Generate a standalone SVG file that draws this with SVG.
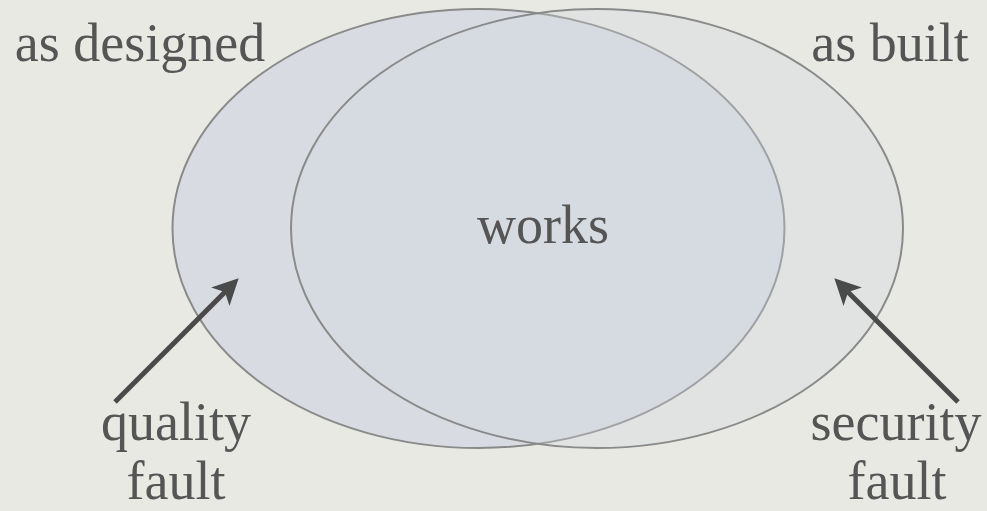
<svg xmlns="http://www.w3.org/2000/svg" width="987" height="511" viewBox="0 0 987 511">
  <style>
    .set { stroke: #8a8a8a; stroke-width: 2; }
    .label { font-family: "Liberation Serif", "Times New Roman", serif; font-size: 54px; fill: #555555; text-anchor: middle; }
    .pointer { stroke: #4a4a4a; stroke-width: 5; fill: none; marker-end: url(#head); }
  </style>
  <defs>
    <marker id="head" viewBox="0 0 10 10" refX="3" refY="5" markerWidth="5.6" markerHeight="5.2" orient="auto" markerUnits="strokeWidth">
      <path d="M0,0 L10,5 L0,10 L2.5,5 z" fill="#4a4a4a"/>
    </marker>
  </defs>

  <rect width="987" height="511" fill="#e9e9e4"/>

  <g id="as-designed">
    <ellipse class="set" cx="478.5" cy="228.5" rx="306" ry="219.5" fill="#d8dce2"/>
    <text class="label" x="140" y="61">as designed</text>
  </g>

  <g id="as-built">
    <ellipse class="set" cx="597" cy="228.5" rx="306" ry="219.5" fill="#d0d6df" fill-opacity="0.3"/>
    <text class="label" x="890" y="61">as built</text>
  </g>

  <g id="works">
    <text class="label" x="543" y="243">works</text>
  </g>

  <g id="quality-fault">
    <text class="label" x="176" y="440">quality</text>
    <text class="label" x="176" y="499">fault</text>
  </g>

  <g id="security-fault">
    <text class="label" x="896" y="440">security</text>
    <text class="label" x="897" y="499">fault</text>
  </g>

  <g id="connectors">
    <line class="pointer" x1="115" y1="402" x2="225.8" y2="291.2"/>
    <line class="pointer" x1="958" y1="402" x2="847.2" y2="291.2"/>
  </g>
</svg>
